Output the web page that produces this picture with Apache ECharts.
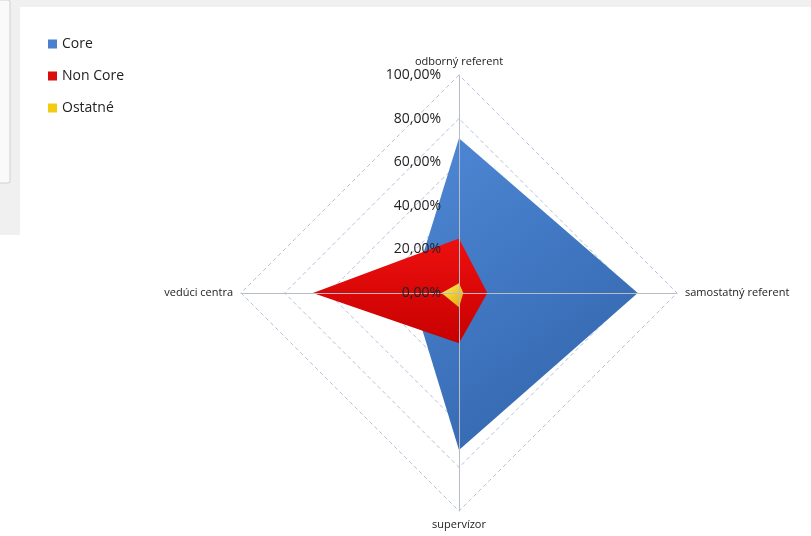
<!DOCTYPE html>
<html>
<head>
<meta charset="utf-8">
<script src="https://cdn.jsdelivr.net/npm/echarts@6/dist/echarts.min.js"></script>
<style>
html,body{margin:0;padding:0;background:#fff;}
#main{width:811px;height:536px;}
</style>
</head>
<body>
<div id="main"></div>
<script>
// indicators, counter-clockwise from top (echarts radar order)
var indicators = ['odborný referent', 'vedúci centra', 'supervízor', 'samostatný referent'];
var seriesNames = ['Core', 'Non Core', 'Ostatné'];
var core = [0.71, 0.22, 0.72, 0.82];
var nonCore = [0.25, 0.67, 0.23, 0.13];
var ostatne = [0.045, 0.08, 0.065, 0.02];
var tickMax = 1;

var myChart = echarts.init(document.getElementById('main'));

function pct(v){
	return (v * 100).toFixed(2).replace('.', ',') + '%';
}

function buildIndicators(withLabel){
	var list = [];
	for(var i=0;i<indicators.length;i++){
		var ind = {name: indicators[i], min: 0, max: tickMax};
		if(withLabel && i == 0){
			ind.axisLabel = {show: true};
		}
		list.push(ind);
	}
	return list;
}

var radarBase = {
	center: [459, 293],
	radius: 218,
	startAngle: 90,
	shape: 'polygon',
	splitNumber: 5,
	nameGap: 8,
	splitArea: {show: false},
	axisTick: {show: false}
};

var option = {
	backgroundColor: '#fff',
	animation: false,
	graphic: [
		{type: 'rect', shape: {x: 0, y: 0, width: 811, height: 7}, style: {fill: '#f0f0f0'}, silent: true},
		{type: 'rect', shape: {x: 0, y: 0, width: 20, height: 235}, style: {fill: '#f0f0f0'}, silent: true},
		{type: 'rect', shape: {x: -2, y: 0, width: 12, height: 183, r: 2}, style: {fill: '#fafafa', stroke: '#cfcfcf'}, silent: true}
	],
	legend: {
		orient: 'vertical',
		left: 43,
		top: 32,
		itemWidth: 9,
		itemHeight: 9,
		itemGap: 18,
		icon: 'rect',
		textStyle: {fontSize: 14, color: '#222', fontFamily: 'Open Sans'},
		data: seriesNames
	},
	radar: [
		// dashed grid, under the areas
		echarts.util.extend({
			z: 0,
			axisName: {show: false},
			axisLine: {show: false},
			axisLabel: {show: false},
			splitLine: {lineStyle: {color: '#b4c2da', type: [4, 3], width: 1}},
			indicator: buildIndicators(false)
		}, radarBase),
		// axes, names and tick labels, on top
		echarts.util.extend({
			z: 5,
			axisName: {color: '#222', fontSize: 11, fontFamily: 'Open Sans'},
			axisLine: {lineStyle: {color: '#b8bcc4', width: 1}},
			splitLine: {show: false},
			axisLabel: {
				show: false,
				color: '#222',
				fontSize: 14,
				fontFamily: 'Open Sans',
				margin: 18,
				formatter: function(v){ return pct(v); }
			},
			indicator: buildIndicators(true)
		}, radarBase)
	],
	series: [{
		type: 'radar',
		radarIndex: 0,
		z: 2,
		symbol: 'none',
		lineStyle: {width: 0},
		data: [
			{
				name: seriesNames[0], value: core,
				itemStyle: {color: '#4a80cc'},
				areaStyle: {opacity: 1, color: new echarts.graphic.LinearGradient(0, 0, 1, 1, [
					{offset: 0, color: '#4f88d6'}, {offset: 1, color: '#2f62a8'}])}
			},
			{
				name: seriesNames[1], value: nonCore,
				itemStyle: {color: '#d90f0f'},
				areaStyle: {opacity: 1, color: new echarts.graphic.LinearGradient(0, 0, 0, 1, [
					{offset: 0, color: '#ee1010'}, {offset: 1, color: '#c80000'}])}
			},
			{
				name: seriesNames[2], value: ostatne,
				itemStyle: {color: '#f2cc10'},
				areaStyle: {opacity: 1, color: new echarts.graphic.LinearGradient(0, 0, 1, 1, [
					{offset: 0, color: '#fff060'}, {offset: 1, color: '#e0a800'}])}
			}
		]
	}]
};

myChart.setOption(option);
</script>
</body>
</html>
